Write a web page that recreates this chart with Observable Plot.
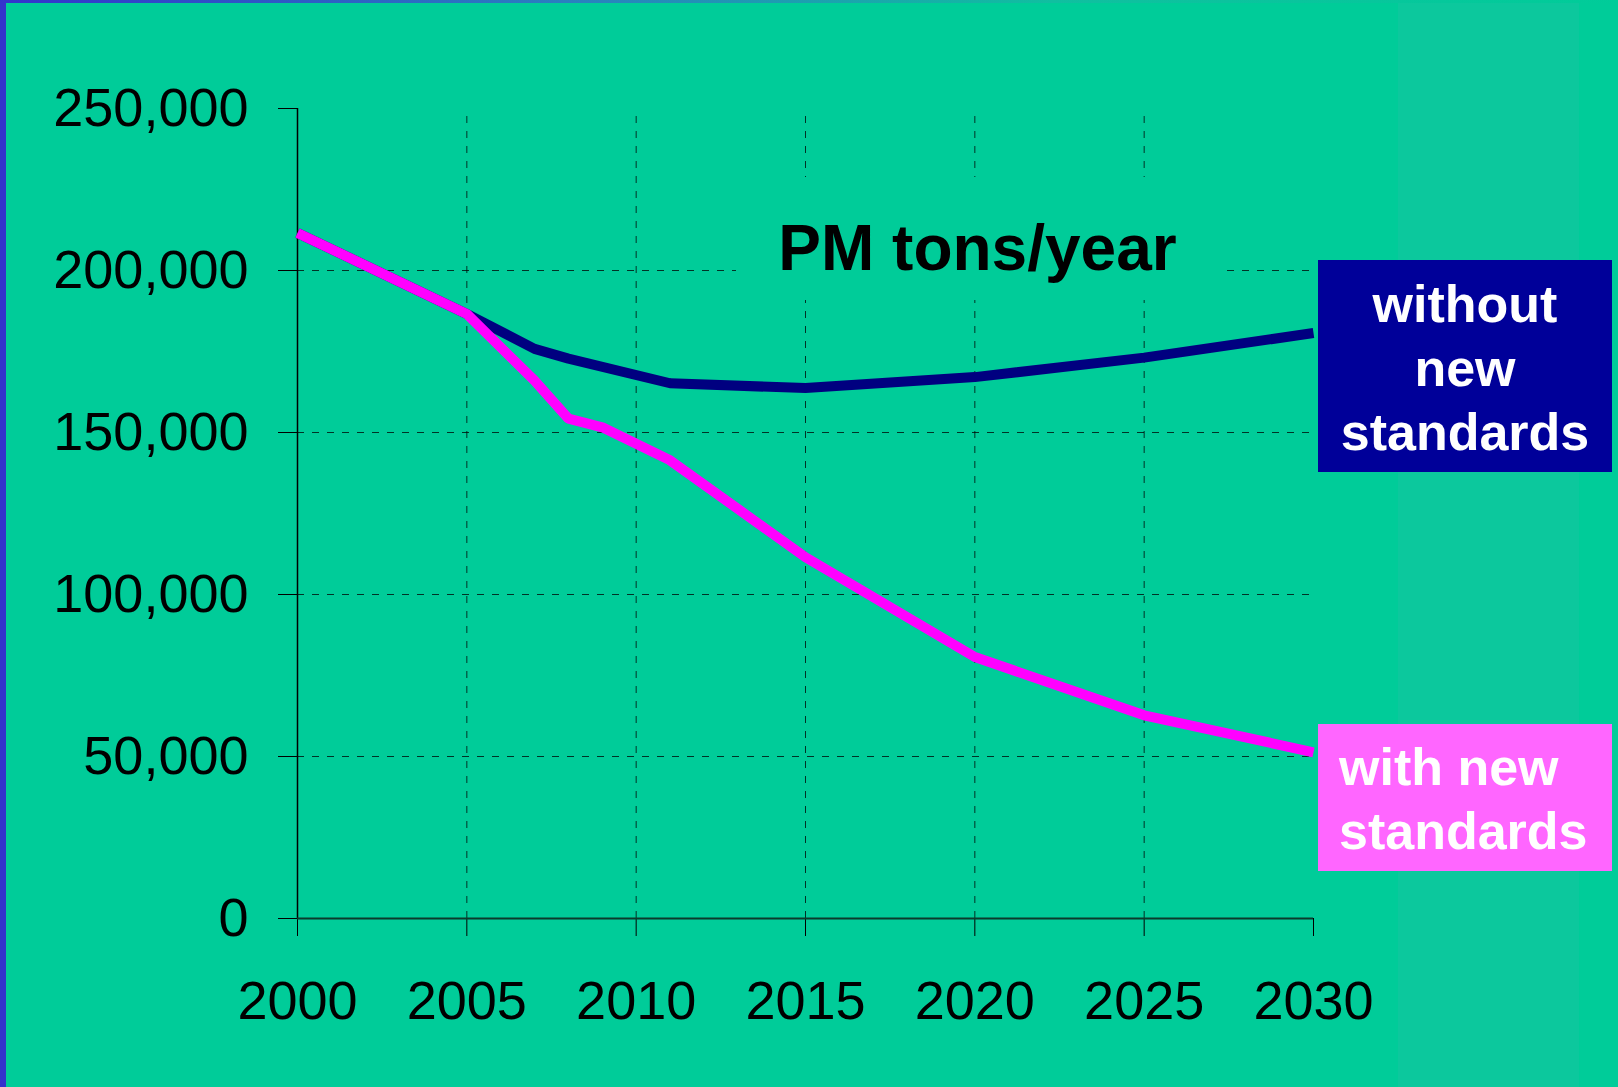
<!DOCTYPE html>
<html>
<head>
<meta charset="utf-8">
<script src="https://cdn.jsdelivr.net/npm/d3@7"></script>
<script src="https://cdn.jsdelivr.net/npm/@observablehq/plot@0.6"></script>
<style>
  html, body { margin: 0; padding: 0; }
  body { width: 1618px; height: 1087px; overflow: hidden; background: #00CC99;
         font-family: "Liberation Sans", Arial, Helvetica, sans-serif; }
  #wrap { position: relative; width: 1618px; height: 1087px; }
  #band { position: absolute; left: 1398px; top: 0; width: 181px; height: 1087px; background: #0CC89D; }
  #chart { position: absolute; left: 0; top: 0; }
  #leftbar { position: absolute; left: 0; top: 0; width: 6px; height: 1087px; background: #3333CC; }
  #topbar { position: absolute; left: 0; top: 0; width: 1618px; height: 3px;
            background: linear-gradient(to right, #3333CC 0%, #2a7fbf 35%, #10bfa0 65%, #00CC99 100%); }
  #title { position: absolute; left: 736px; top: 177px; width: 483px; height: 123px;
           background: #00CC99; text-align: center; font-weight: bold; font-size: 64px;
           line-height: 142px; color: #000; white-space: nowrap; }
  .lab { position: absolute; color: #fff; font-weight: bold; font-size: 52px; line-height: 64px;
         box-sizing: border-box; white-space: nowrap; }
  #labWithout { left: 1318px; top: 260px; width: 294px; height: 212px; background: #000099;
                text-align: center; padding-top: 12px; }
  #labWith { left: 1318px; top: 724px; width: 294px; height: 147px; background: #FF66FF;
             text-align: left; padding-top: 11px; padding-left: 21px; }
</style>
</head>
<body>
<div id="wrap">
  <div id="band"></div>
  <div id="chart"></div>
  <div id="title">PM tons/year</div>
  <div id="labWithout" class="lab">without<br>new<br>standards</div>
  <div id="labWith" class="lab">with new<br>standards</div>
  <div id="leftbar"></div>
  <div id="topbar"></div>
</div>
<script>
// ---- data ----
const withoutYears  = [2000, 2005, 2007, 2008, 2011, 2015, 2020, 2025, 2030];
const withoutValues = [211600, 186600, 175800, 172800, 165200, 163700, 167100, 173100, 180700];

const withYears  = [2000, 2005, 2007, 2008, 2009, 2011, 2015, 2020, 2025, 2030];
const withValues = [211600, 186600, 166000, 154300, 151600, 141400, 111500, 80700, 62700, 51300];

const xTicks = [2000, 2005, 2010, 2015, 2020, 2025, 2030];
const yTicks = [0, 50000, 100000, 150000, 200000, 250000];
const gridX = [2005, 2010, 2015, 2020, 2025];
const gridY = [50000, 100000, 150000, 200000];

const withoutData = withoutYears.map((yr, i) => ({year: yr, value: withoutValues[i]}));
const withData = withYears.map((yr, i) => ({year: yr, value: withValues[i]}));

const fmt = d3.format(",");

const chart = Plot.plot({
  width: 1618,
  height: 1087,
  marginLeft: 297,
  marginRight: 305,
  marginTop: 108,
  marginBottom: 169,
  style: {background: "transparent", color: "#000", fontFamily: "'Liberation Sans', Arial, sans-serif", overflow: "visible"},
  x: {domain: [2000, 2030], axis: null},
  y: {domain: [0, 250000], axis: null},
  marks: [
    Plot.ruleY(gridY, {x1: 2000, x2: 2030, stroke: "#000", strokeOpacity: 0.75, strokeWidth: 1, strokeDasharray: "7,8"}),
    Plot.ruleX(gridX, {y1: 0, y2: 250000, stroke: "#000", strokeOpacity: 0.75, strokeWidth: 1, strokeDasharray: "7,8"}),
    Plot.axisY({ticks: yTicks, tickFormat: fmt, tickSize: 19, tickPadding: 30, fontSize: 54, label: null, anchor: "left"}),
    Plot.axisX({ticks: xTicks, tickFormat: d => String(d), tickSize: 18, tickPadding: 44, fontSize: 54, label: null, anchor: "bottom"}),
    Plot.ruleX([2000], {y1: 0, y2: 250000, stroke: "#000", strokeWidth: 1.5}),
    Plot.ruleY([0], {x1: 2000, x2: 2030, stroke: "#0b3b2c", strokeWidth: 2}),
    Plot.line(withoutData, {x: "year", y: "value", stroke: "#000080", strokeWidth: 10, strokeLinejoin: "miter", strokeLinecap: "butt"}),
    Plot.line(withData, {x: "year", y: "value", stroke: "#FF00FF", strokeWidth: 10, strokeLinejoin: "miter", strokeLinecap: "butt"})
  ]
});
document.getElementById("chart").appendChild(chart);
</script>
</body>
</html>
